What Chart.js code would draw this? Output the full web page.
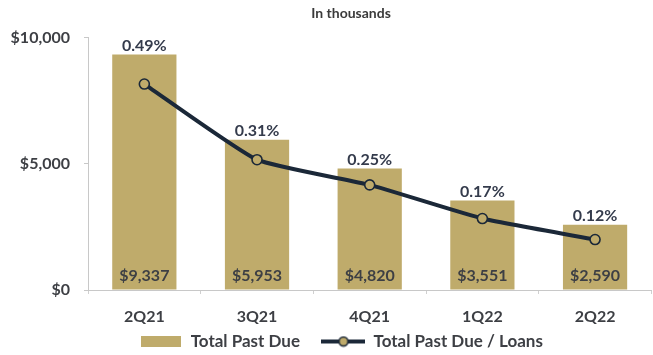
<!DOCTYPE html>
<html>
<head>
<meta charset="utf-8">
<script src="https://cdn.jsdelivr.net/npm/chart.js@4/dist/chart.umd.min.js"></script>
<style>
  html, body { margin: 0; padding: 0; background: #fff; overflow: hidden; }
  /* plot runs a few pixels past the right edge of the window */
  #wrap { width: 658px; height: 355px; }
</style>
</head>
<body>
<div id="wrap"><canvas id="chart"></canvas></div>
<script>
// --- DATA ---
const quarters = ["2Q21", "3Q21", "4Q21", "1Q22", "2Q22"];
const totalPastDue = [9337, 5953, 4820, 3551, 2590];      // in thousands
const pastDueToLoans = [0.49, 0.31, 0.25, 0.17, 0.12];   // percent
const yTicks = [0, 5000, 10000];

// --- STYLE ---
const GOLD = "#bfab6b";
const NAVY = "#1b2838";
const TEXT = "#3d3f44";
const FONT = "Lato, 'Open Sans', sans-serif";

const fmtMoney = (v) => "$" + v.toLocaleString("en-US");
const fmtPct = (v) => v.toFixed(2) + "%";

// legend swatches drawn on small canvases
function barSwatch() {
  const c = document.createElement("canvas");
  c.width = 40; c.height = 11;
  const ctx = c.getContext("2d");
  ctx.fillStyle = GOLD;
  ctx.fillRect(0, 0, 40, 11);
  return c;
}

function lineSwatch() {
  const c = document.createElement("canvas");
  c.width = 44; c.height = 12;
  const ctx = c.getContext("2d");
  ctx.strokeStyle = NAVY;
  ctx.lineWidth = 4;
  ctx.beginPath();
  ctx.moveTo(0, 6);
  ctx.lineTo(44, 6);
  ctx.stroke();
  ctx.beginPath();
  ctx.arc(22, 6, 4.5, 0, Math.PI * 2);
  ctx.fillStyle = GOLD;
  ctx.fill();
  ctx.lineWidth = 1.6;
  ctx.stroke();
  return c;
}

// value labels: money inside bar bottom, ratio above bar top
const valueLabels = {
  id: "valueLabels",
  afterDatasetsDraw(chart) {
    const { ctx } = chart;
    const bars = chart.getDatasetMeta(1).data;
    ctx.save();
    ctx.font = `bold 16px ${FONT}`;
    ctx.textAlign = "center";
    ctx.textBaseline = "middle";
    bars.forEach((bar, i) => {
      ctx.fillStyle = TEXT;
      ctx.fillText(fmtMoney(totalPastDue[i]), bar.x, bar.base - 14);
      ctx.fillStyle = "#343b4c";
      ctx.fillText(fmtPct(pastDueToLoans[i]), bar.x, bar.y - 9);
    });
    ctx.restore();
  }
};

// short legend strip pulled up a bit; legend and title nudged right
const blockPlacement = {
  id: "blockPlacement",
  beforeInit(chart) {
    const fit = chart.legend.fit;
    chart.legend.fit = function () {
      fit.call(this);
      this.height = 29;
    };
  },
  afterLayout(chart) {
    chart.legend.top -= 15;
    chart.legend.left += 24;
    chart.titleBlock.left += 44;
  }
};

new Chart(document.getElementById("chart"), {
  data: {
    labels: quarters,
    datasets: [
      {
        type: "line",
        label: "Total Past Due / Loans",
        data: pastDueToLoans,
        yAxisID: "y1",
        borderColor: NAVY,
        borderWidth: 4,
        tension: 0.15,
        pointRadius: 5,
        pointBorderWidth: 1.6,
        pointBackgroundColor: GOLD,
        pointBorderColor: NAVY,
        order: 0
      },
      {
        type: "bar",
        label: "Total Past Due",
        data: totalPastDue,
        yAxisID: "y",
        backgroundColor: GOLD,
        categoryPercentage: 1,
        barPercentage: 0.57,
        order: 1
      }
    ]
  },
  options: {
    responsive: true,
    maintainAspectRatio: false,
    animation: false,
    events: [],
    layout: { padding: 0 },
    plugins: {
      title: {
        display: true,
        text: "In thousands",
        color: "#3a3a3a",
        font: { family: FONT, size: 14, weight: "bold" },
        padding: { top: 5, bottom: 16 }
      },
      legend: {
        position: "bottom",
        labels: {
          usePointStyle: true,
          pointStyleWidth: 43,
          padding: 22,
          color: TEXT,
          font: { family: FONT, size: 17, weight: "bold" },
          generateLabels(chart) {
            return chart.data.datasets.map((ds, i) => ({
              text: ds.label,
              datasetIndex: i,
              pointStyle: ds.type === "bar" ? barSwatch() : lineSwatch(),
              fontColor: TEXT,
              lineWidth: 0,
              strokeStyle: "transparent",
              fillStyle: "transparent"
            })).reverse();
          }
        }
      },
      tooltip: { enabled: false }
    },
    scales: {
      x: {
        offset: true,
        afterFit(scale) { scale.height = 36; },
        grid: {
          offset: true,
          drawOnChartArea: false,
          drawTicks: true,
          tickLength: 4,
          color: "#d0d0d0"
        },
        border: { display: true, color: "#c8c8c8", width: 1 },
        ticks: {
          color: TEXT,
          padding: 13,
          font: { family: FONT, size: 16, weight: "bold" }
        }
      },
      y: {
        position: "left",
        min: 0,
        max: 10000,
        afterFit(scale) { scale.width = 88; },
        afterBuildTicks(scale) { scale.ticks = yTicks.map(v => ({ value: v })); },
        grid: {
          drawOnChartArea: false,
          drawTicks: true,
          tickLength: 4,
          color: "#c8c8c8"
        },
        border: { display: true, color: "#c8c8c8", width: 1 },
        ticks: {
          color: TEXT,
          padding: 14,
          font: { family: FONT, size: 16, weight: "bold" },
          callback: (v) => fmtMoney(v)
        }
      },
      y1: {
        display: false,
        min: 0,
        max: 0.6
      }
    }
  },
  plugins: [valueLabels, blockPlacement]
});
</script>
</body>
</html>
